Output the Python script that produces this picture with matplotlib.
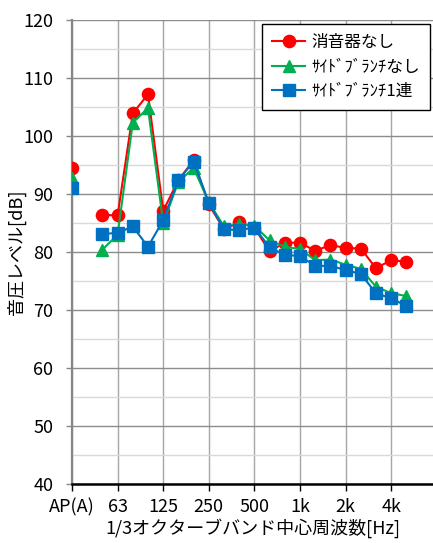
import numpy as np
import matplotlib
matplotlib.use("Agg")
import matplotlib.pyplot as plt
from matplotlib.ticker import MultipleLocator, FixedLocator

plt.rcParams['font.family'] = ['Noto Sans CJK JP', 'DejaVu Sans']

bands = ['AP(A)', '40', '50', '63', '80', '100', '125', '160', '200', '250',
         '315', '400', '500', '630', '800', '1k', '1.25k', '1.6k', '2k',
         '2.5k', '3.15k', '4k', '5k']

no_silencer = [94.5, np.nan, 86.4, 86.3, 103.9, 107.2, 87.1, 92.4, 95.8, 88.2,
               83.9, 85.1, 84.2, 80.1, 81.6, 81.6, 80.2, 81.2, 80.7, 80.6,
               77.2, 78.6, 78.3]
no_branch = [92.8, np.nan, 80.4, 83.0, 102.3, 104.8, 85.0, 92.1, 94.5, 88.6,
             84.4, 84.9, 84.5, 82.0, 80.9, 80.5, 78.6, 78.7, 77.8, 77.1,
             74.0, 72.9, 72.4]
one_branch = [91.1, np.nan, 83.1, 83.3, 84.4, 80.9, 85.5, 92.4, 95.6, 88.5,
              83.9, 83.8, 84.2, 80.8, 79.5, 79.3, 77.6, 77.6, 76.9, 76.2,
              72.9, 72.0, 70.7]

labels = ['消音器なし', 'ｻｲﾄﾞﾌﾞﾗﾝﾁなし', 'ｻｲﾄﾞﾌﾞﾗﾝﾁ1連']
x = np.arange(len(bands))

fig = plt.figure(figsize=(4.33, 5.43), dpi=100)
ax = fig.add_axes([72/433, 1-484/543, 361/433, 464/543])

ax.plot(x, no_silencer, color='#FF0000', marker='o', markersize=8.8, lw=1.5,
        label=labels[0], zorder=3)
ax.plot(x, no_branch, color='#00B050', marker='^', markersize=8.2, lw=1.5,
        label=labels[1], zorder=4)
ax.plot(x, one_branch, color='#0070C0', marker='s', markersize=8.4, lw=1.5,
        label=labels[2], zorder=5)

ax.set_xlim(0, 23.75)
ax.set_ylim(40, 120)
ax.yaxis.set_major_locator(MultipleLocator(10))
ax.yaxis.set_minor_locator(MultipleLocator(5))
ax.xaxis.set_major_locator(FixedLocator(x[::3]))
ax.set_xticklabels(bands[::3])

ax.grid(axis='y', which='major', color='#8c8c8c', lw=1.0, zorder=0)
ax.grid(axis='y', which='minor', color='#d9d9d9', lw=1.0, zorder=0)
ax.grid(axis='x', which='major', color='#a6a6a6', lw=1.0, zorder=0)

for s in ['top', 'right']:
    ax.spines[s].set_visible(False)
ax.spines['left'].set_color('#868686')
ax.spines['left'].set_linewidth(1.6)
ax.spines['bottom'].set_color('black')
ax.spines['bottom'].set_linewidth(1.8)

ax.tick_params(axis='y', which='major', length=4, color='#868686', width=1,
               labelsize=13, pad=9.5)
ax.tick_params(axis='y', which='minor', length=0)
ax.tick_params(axis='x', length=5, color='black', width=1, labelsize=13, pad=5)

ax.set_ylabel('音圧レベル[dB]', fontsize=13, labelpad=-2)
ax.set_xlabel('1/3オクターブバンド中心周波数[Hz]', fontsize=13)
ax.xaxis.set_label_coords(0.5, (484-528)/464)
ax.xaxis.label.set_va('center')

leg = ax.legend(loc='upper left', bbox_to_anchor=(0.526, 0.991),
                borderaxespad=0, fontsize=12, fancybox=False,
                edgecolor='black', framealpha=1, handlelength=2.0,
                handletextpad=0.35, labelspacing=0.45, borderpad=0.6)
leg.get_frame().set_linewidth(1.0)

fig.savefig('out.png', dpi=100)
